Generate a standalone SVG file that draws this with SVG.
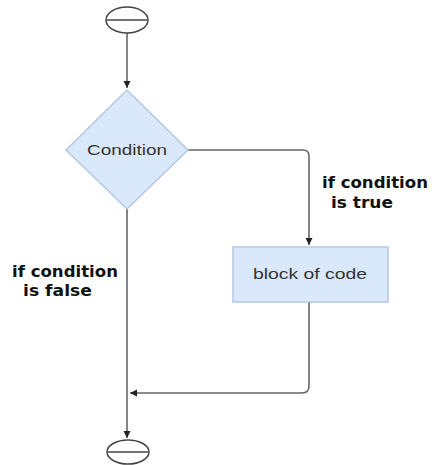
<svg xmlns="http://www.w3.org/2000/svg" width="432" height="465" viewBox="0 0 432 465">
<style>
.term{fill:#ffffff;stroke:#444;stroke-width:1.5}
.shape{fill:#dae8fc;stroke:#b4c8e6;stroke-width:1.5}
.conn{fill:none;stroke:#666;stroke-width:1.6}
.node{font-family:"Liberation Sans",Arial,sans-serif;font-size:15px;fill:#333;text-anchor:middle}
.lbl{font-family:"DejaVu Sans","Liberation Sans",sans-serif;font-weight:bold;font-size:15px;fill:#111}
</style>
<defs>
<marker id="arr" markerWidth="8" markerHeight="8" refX="7" refY="4" orient="auto" markerUnits="userSpaceOnUse">
<path d="M0,0.5 L7,4 L0,7.5 Z" fill="#222"/>
</marker>
</defs>
<rect width="432" height="465" fill="#fff"/>
<g id="connectors">
<path class="conn" d="M127,33 V88" marker-end="url(#arr)"/>
<path class="conn" d="M188,150 H303 Q309,150 309,156 V245" marker-end="url(#arr)"/>
<path class="conn" d="M127,209 V438" marker-end="url(#arr)"/>
<path class="conn" d="M309,302 V386 Q309,393 302,393 H130" marker-end="url(#arr)"/>
</g>
<g id="start">
<ellipse class="term" cx="127" cy="20" rx="21" ry="13"/>
<line x1="107" y1="20" x2="147" y2="20" stroke="#444" stroke-width="1.5"/>
</g>
<g id="condition">
<polygon class="shape" points="127,90 188,150 127,209 66,150"/>
<text class="node" x="127" y="155" textLength="80" lengthAdjust="spacingAndGlyphs">Condition</text>
</g>
<g id="block">
<rect class="shape" x="233" y="247" width="155" height="55"/>
<text class="node" x="310" y="279" textLength="114" lengthAdjust="spacingAndGlyphs">block of code</text>
</g>
<g id="end">
<ellipse class="term" cx="128" cy="452" rx="21" ry="12"/>
<line x1="108" y1="452" x2="148" y2="452" stroke="#444" stroke-width="1.5"/>
</g>
<g id="labels">
<text class="lbl" x="322" y="188" textLength="106" lengthAdjust="spacingAndGlyphs">if condition</text>
<text class="lbl" x="331" y="208" textLength="62" lengthAdjust="spacingAndGlyphs">is true</text>
<text class="lbl" x="12" y="277" textLength="106" lengthAdjust="spacingAndGlyphs">if condition</text>
<text class="lbl" x="23" y="296" textLength="69" lengthAdjust="spacingAndGlyphs">is false</text>
</g>
</svg>
